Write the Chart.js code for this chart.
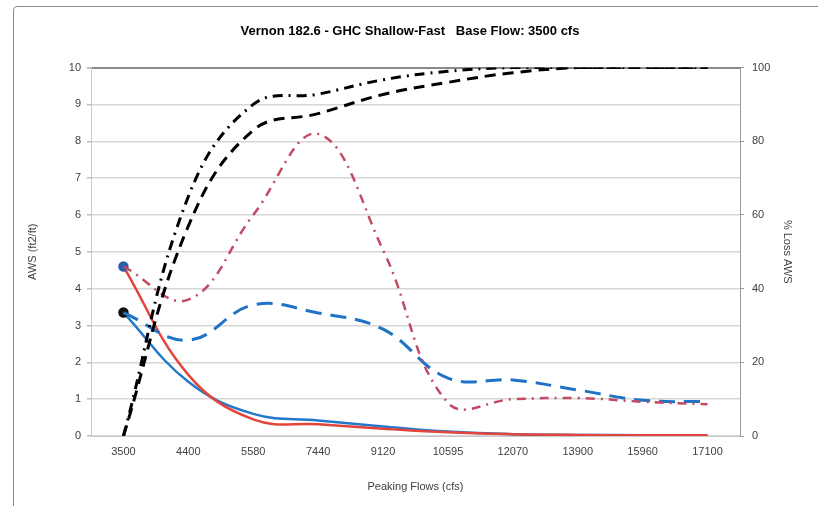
<!DOCTYPE html>
<html>
<head>
<meta charset="utf-8">
<script src="https://cdn.jsdelivr.net/npm/chart.js@4"></script>
<style>
  html, body { margin: 0; padding: 0; background: #fff; }
  #frame { position: absolute; left: 13px; top: 6px; width: 830px; height: 520px;
           border: 1px solid #8a8a8a; border-radius: 4px; }
  #wrap { position: absolute; left: 0; top: 0; width: 818px; height: 506px; }
</style>
</head>
<body>
<div id="frame"></div>
<div id="wrap"><canvas id="chart" width="818" height="506"></canvas></div>
<script>
// categorie sumbu X
const flows = ['3500', '4400', '5580', '7440', '9120', '10595', '12070', '13900', '15960', '17100'];

// AWS (ft2/ft) - sumbu kiri
const awsBlue = [3.35, 1.47, 0.6, 0.42, 0.26, 0.12, 0.05, 0.03, 0.02, 0.01];
const awsRed = [4.6, 1.66, 0.45, 0.32, 0.2, 0.1, 0.05, 0.03, 0.02, 0.02];
const awsBlueDash = [3.35, 2.6, 3.56, 3.34, 2.9, 1.57, 1.52, 1.25, 0.97, 0.93];
const awsRedDashDot = [4.6, 3.7, 6.0, 8.2, 5.05, 0.9, 1.0, 1.03, 0.93, 0.86];

// % Loss AWS - sumbu kanan
const lossDash = [0, 57, 83, 87.5, 92.7, 96, 98.6, 100, 100, 100];
const lossDashDot = [0, 65, 90, 92.8, 96.7, 99, 100, 100, 100, 100];

const yTicks = [0, 1, 2, 3, 4, 5, 6, 7, 8, 9, 10];

const FONT = 'Liberation Sans, Arial, sans-serif';
const firstOnly = (r) => flows.map((_, i) => i === 0 ? r : 0);

new Chart(document.getElementById('chart'), {
  type: 'line',
  data: {
    labels: flows,
    datasets: [
      {
        label: 'Loss dash', data: lossDash, yAxisID: 'y2', order: 1,
        borderColor: '#000', borderWidth: 3, borderDash: [11, 7],
        pointRadius: 0, tension: 0.4, fill: false
      },
      {
        label: 'Loss dash-dot', data: lossDashDot, yAxisID: 'y2', order: 0,
        borderColor: '#000', borderWidth: 3, borderDash: [10, 6, 2, 6],
        pointRadius: 0, tension: 0.4, fill: false
      },
      {
        label: 'Red dash-dot', data: awsRedDashDot, yAxisID: 'y', order: 3,
        borderColor: '#c24a63', borderWidth: 2.5, borderDash: [9, 6, 2, 6],
        pointRadius: 0, tension: 0.4, fill: false
      },
      {
        label: 'Blue dash', data: awsBlueDash, yAxisID: 'y', order: 4,
        borderColor: '#1f73c6', borderWidth: 3, borderDash: [16, 9],
        pointRadius: 0, tension: 0.4, fill: false
      },
      {
        label: 'Blue', data: awsBlue, yAxisID: 'y', order: 6,
        borderColor: '#2478cc', borderWidth: 2.5,
        pointRadius: firstOnly(4), pointBackgroundColor: '#111', pointBorderColor: '#111',
        tension: 0.4, fill: false
      },
      {
        label: 'Red', data: awsRed, yAxisID: 'y', order: 5,
        borderColor: '#e2453c', borderWidth: 2.5,
        pointRadius: firstOnly(4), pointBackgroundColor: '#2d5ea8', pointBorderColor: '#2d5ea8',
        tension: 0.4, fill: false
      }
    ]
  },
  options: {
    responsive: false,
    animation: false,
    devicePixelRatio: 1,
    layout: { padding: { left: 26, right: 24, top: 18, bottom: 12 } },
    plugins: {
      legend: { display: false },
      tooltip: { enabled: false },
      title: {
        display: true,
        text: 'Vernon 182.6 - GHC Shallow-Fast   Base Flow: 3500 cfs',
        color: '#000',
        font: { family: FONT, size: 13, weight: 'bold' },
        padding: { top: 6, bottom: 28 }
      }
    },
    scales: {
      x: {
        offset: true,
        grid: { display: false, drawTicks: false },
        border: { display: true, color: '#c8c8c8' },
        ticks: { color: '#404040', font: { family: FONT, size: 11 }, padding: 9, maxRotation: 0, autoSkip: false },
        title: { display: true, text: 'Peaking Flows (cfs)', color: '#404040', font: { family: FONT, size: 11 }, padding: 0 },
        afterFit: (s) => { s.height = 58; }
      },
      y: {
        position: 'left', min: 0, max: 10,
        afterBuildTicks: (s) => { s.ticks = yTicks.map(v => ({ value: v })); },
        grid: {
          color: (c) => c.tick && c.tick.value === 10 ? '#8a8a8a' : '#d6d6d6',
          lineWidth: (c) => c.tick && c.tick.value === 10 ? 2 : 1.5,
          drawTicks: true, tickLength: 4, tickColor: '#bdbdbd'
        },
        border: { display: true, color: '#c8c8c8' },
        ticks: { color: '#404040', font: { family: FONT, size: 11 }, padding: 6 },
        title: { display: true, text: 'AWS (ft2/ft)', color: '#404040', font: { family: FONT, size: 11 }, padding: 0 },
        afterFit: (s) => { s.width = 65; }
      },
      y2: {
        position: 'right', min: 0, max: 100,
        ticks: { stepSize: 20, color: '#404040', font: { family: FONT, size: 11 }, padding: 8 },
        grid: { drawOnChartArea: false, drawTicks: true, tickLength: 4, color: '#9a9a9a' },
        border: { display: true, color: '#9a9a9a' },
        title: { display: true, text: '% Loss AWS', color: '#404040', font: { family: FONT, size: 11 }, padding: 0 },
        afterFit: (s) => { s.width = 54; }
      }
    }
  }
});
</script>
</body>
</html>
